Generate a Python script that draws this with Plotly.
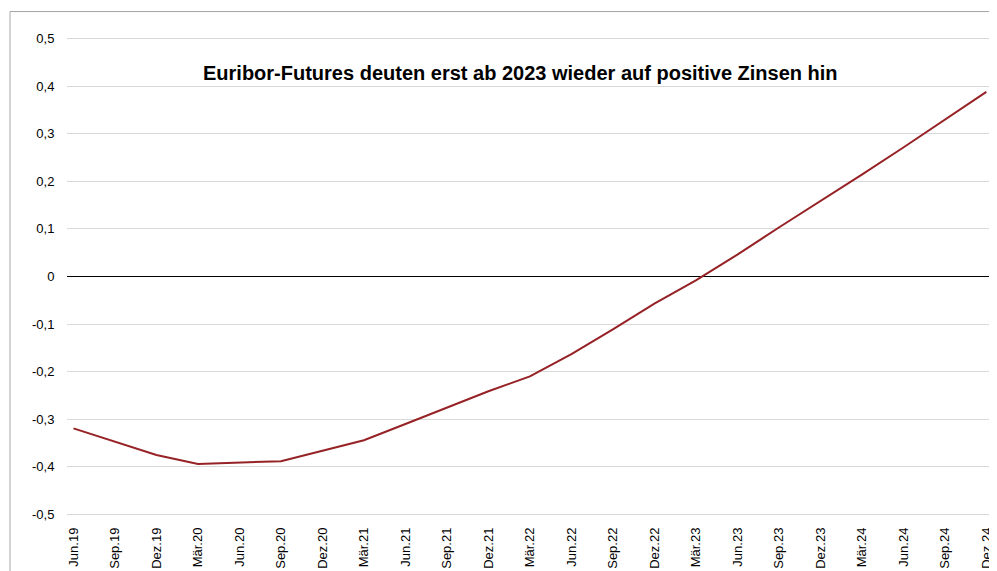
import plotly.graph_objects as go

categories = ["Jun.19", "Sep.19", "Dez.19", "Mär.20", "Jun.20", "Sep.20", "Dez.20",
              "Mär.21", "Jun.21", "Sep.21", "Dez.21", "Mär.22", "Jun.22", "Sep.22",
              "Dez.22", "Mär.23", "Jun.23", "Sep.23", "Dez.23", "Mär.24", "Jun.24",
              "Sep.24", "Dez.24"]
values = [-0.319, -0.347, -0.375, -0.394, -0.391, -0.388, -0.366,
          -0.344, -0.310, -0.275, -0.241, -0.210, -0.163, -0.111,
          -0.057, -0.008, 0.046, 0.103, 0.158, 0.214, 0.271,
          0.329, 0.388]
ytick_vals = [-0.5, -0.4, -0.3, -0.2, -0.1, 0, 0.1, 0.2, 0.3, 0.4, 0.5]
ytick_text = ["-0,5", "-0,4", "-0,3", "-0,2", "-0,1", "0", "0,1", "0,2", "0,3", "0,4", "0,5"]
title_text = "Euribor-Futures deuten erst ab 2023 wieder auf positive Zinsen hin"

W, H = 997, 571
L, R, T, B = 59, 0, 20.5, 54.5
pw, ph = W - L - R, H - T - B

fig = go.Figure()
fig.add_trace(go.Scatter(
    x=categories, y=values, mode="lines",
    line=dict(color="#962226", width=2),
    hoverinfo="x+y", showlegend=False,
))

fig.update_layout(
    width=W, height=H,
    margin=dict(l=L, r=R, t=T, b=B),
    paper_bgcolor="white", plot_bgcolor="white",
    font=dict(family="Liberation Sans, Arial, sans-serif", size=13, color="#000000"),
    xaxis=dict(
        type="category", range=[-0.156, 22.45],
        tickangle=-90, showgrid=False, zeroline=False, showline=False,
        ticks="", tickfont=dict(size=13), automargin=False,
    ),
    yaxis=dict(
        range=[-0.52, 0.52], tickvals=ytick_vals, ticktext=ytick_text,
        showgrid=True, gridcolor="#d9d9d9", gridwidth=1,
        zeroline=True, zerolinecolor="#000000", zerolinewidth=1,
        showline=False, ticks="outside", ticklen=9, tickcolor="rgba(0,0,0,0)",
        tickfont=dict(size=13), automargin=False,
    ),
    shapes=[dict(
        type="rect", xref="paper", yref="paper",
        x0=(2 - L) / pw, x1=1.2, y0=-0.3, y1=(H - B - 3) / ph,
        line=dict(color="#a6a6a6", width=1), layer="below",
    )],
    annotations=[dict(
        text="<b>" + title_text + "</b>", xref="paper", yref="paper",
        x=(512 - L) / pw, y=(H - B - 65) / ph, xanchor="center", yanchor="middle",
        showarrow=False, font=dict(size=20, color="#000000",
                                   family="Liberation Sans, Arial, sans-serif"),
    )],
)

fig.write_html("out.html")
